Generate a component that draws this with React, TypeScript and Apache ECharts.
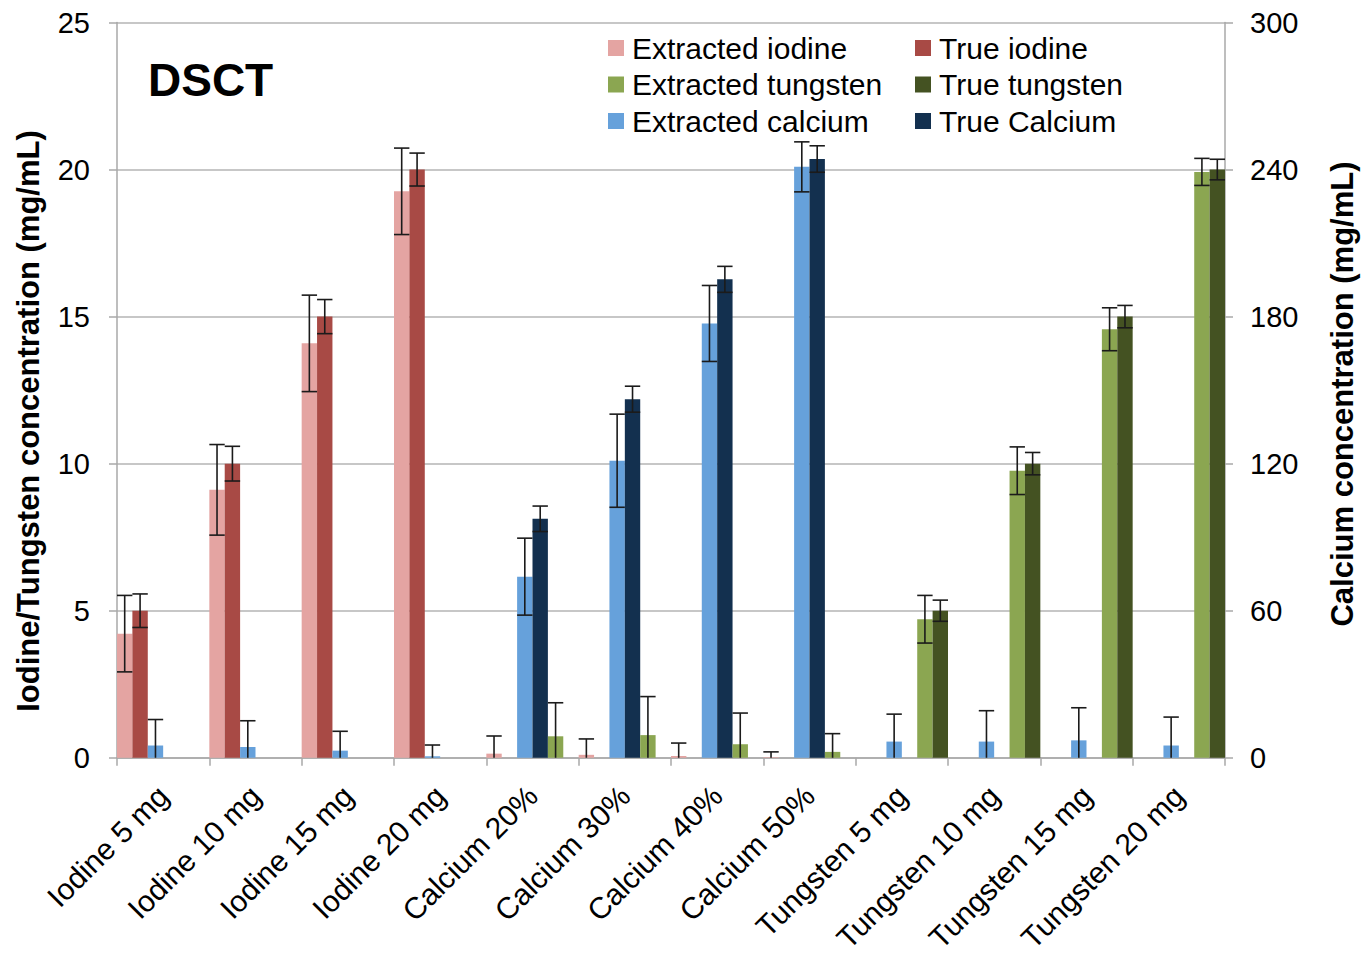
import React, { useEffect, useRef } from 'react';
import * as echarts from 'echarts';

// Phantom inserts measured with dual-source CT
const categories = [
  'Iodine 5 mg', 'Iodine 10 mg', 'Iodine 15 mg', 'Iodine 20 mg',
  'Calcium 20%', 'Calcium 30%', 'Calcium 40%', 'Calcium 50%',
  'Tungsten 5 mg', 'Tungsten 10 mg', 'Tungsten 15 mg', 'Tungsten 20 mg',
];

// Iodine / tungsten in mg/mL (left axis), calcium in mg/mL (right axis)
const extractedIodine = [4.22, 9.11, 14.09, 19.26, 0.14, 0.1, 0.06, 0.02, null, null, null, null];
const extractedIodineErr = [1.3, 1.54, 1.64, 1.47, 0.6, 0.54, 0.44, 0.18, 0, 0, 0, 0];
const trueIodine = [5, 10, 15, 20, null, null, null, null, null, null, null, null];
const trueIodineErr = [0.57, 0.59, 0.58, 0.56, 0, 0, 0, 0, 0, 0, 0, 0];
const extractedCalcium = [5.0, 4.4, 2.9, 0.6, 73.9, 121.2, 177.2, 241.1, 6.6, 6.6, 7.1, 5.0];
const extractedCalciumErr = [10.6, 10.7, 7.9, 4.6, 15.7, 19.0, 15.5, 10.2, 11.2, 12.6, 13.3, 11.6];
const trueCalcium = [null, null, null, null, 97.5, 146.3, 195.2, 244.3, null, null, null, null];
const trueCalciumErr = [0, 0, 0, 0, 5.2, 5.3, 5.3, 5.4, 0, 0, 0, 0];
const extractedTungsten = [null, null, null, null, 0.73, 0.77, 0.46, 0.2, 4.71, 9.76, 14.57, 19.92];
const extractedTungstenErr = [0, 0, 0, 0, 1.14, 1.31, 1.06, 0.62, 0.81, 0.81, 0.73, 0.46];
const trueTungsten = [null, null, null, null, null, null, null, null, 5, 10, 15, 20];
const trueTungstenErr = [0, 0, 0, 0, 0, 0, 0, 0, 0.36, 0.38, 0.38, 0.35];

const leftTicks = { min: 0, max: 25, interval: 5 };
const rightTicks = { min: 0, max: 300, interval: 60 };

const FONT = "'Liberation Sans', Arial, Helvetica, sans-serif";

type BarDef = {
  name: string;
  data: (number | null)[];
  err: number[];
  color: string;
  yAxisIndex: number;
};

// Bars in drawing order inside each category slot
const bars: BarDef[] = [
  { name: 'Extracted iodine', data: extractedIodine, err: extractedIodineErr, color: '#E4A4A2', yAxisIndex: 0 },
  { name: 'True iodine', data: trueIodine, err: trueIodineErr, color: '#A84A45', yAxisIndex: 0 },
  { name: 'Extracted calcium', data: extractedCalcium, err: extractedCalciumErr, color: '#66A1DB', yAxisIndex: 1 },
  { name: 'True Calcium', data: trueCalcium, err: trueCalciumErr, color: '#13304F', yAxisIndex: 1 },
  { name: 'Extracted tungsten', data: extractedTungsten, err: extractedTungstenErr, color: '#8BA651', yAxisIndex: 0 },
  { name: 'True tungsten', data: trueTungsten, err: trueTungstenErr, color: '#445222', yAxisIndex: 0 },
];

const SLOTS = bars.length;

function errorBarSeries(def: BarDef, slot: number) {
  const items: number[][] = [];
  def.data.forEach((v, i) => {
    if (v !== null && def.err[i] > 0) items.push([i, v, def.err[i]]);
  });
  return {
    type: 'custom',
    name: def.name + ' error',
    yAxisIndex: def.yAxisIndex,
    z: 5,
    silent: true,
    encode: { x: 0, y: 1 },
    data: items,
    renderItem: (_params: any, api: any) => {
      const idx = api.value(0);
      const v = api.value(1);
      const e = api.value(2);
      const band = api.size([1, 0])[0];
      const barW = band / SLOTS;
      const cx = api.coord([idx, 0])[0] + (slot - (SLOTS - 1) / 2) * barW;
      const low = v - e;
      const yTop = api.coord([idx, v + e])[1];
      const yBot = api.coord([idx, Math.max(0, low)])[1];
      const half = barW * 0.5;
      const style = { stroke: '#1b1b1b', lineWidth: 1.6 };
      const children: any[] = [
        { type: 'line', shape: { x1: cx, y1: yTop, x2: cx, y2: yBot }, style },
        { type: 'line', shape: { x1: cx - half, y1: yTop, x2: cx + half, y2: yTop }, style },
      ];
      if (low > 0) {
        children.push({ type: 'line', shape: { x1: cx - half, y1: yBot, x2: cx + half, y2: yBot }, style });
      }
      return { type: 'group', children };
    },
  };
}

export default function App() {
  const ref = useRef<HTMLDivElement>(null);

  useEffect(() => {
    if (!ref.current) return;
    const chart = echarts.init(ref.current, null, { renderer: 'svg' });

    const legendText = {
      fontSize: 30,
      fontFamily: FONT,
      color: '#000',
      lineHeight: 30,
      padding: [0, 0, 0, 3],
    };

    const option: any = {
      animation: false,
      backgroundColor: '#ffffff',
      grid: { left: 117, right: 146, top: 22.5, bottom: 196.5, containLabel: false },
      legend: [
        {
          data: ['Extracted iodine', 'Extracted tungsten', 'Extracted calcium'],
          orient: 'vertical',
          left: 608,
          top: 33,
          padding: 0,
          itemWidth: 16,
          itemHeight: 16,
          itemGap: 6.5,
          icon: 'rect',
          selectedMode: false,
          textStyle: legendText,
        },
        {
          data: ['True iodine', 'True tungsten', 'True Calcium'],
          orient: 'vertical',
          left: 915,
          top: 33,
          padding: 0,
          itemWidth: 16,
          itemHeight: 16,
          itemGap: 6.5,
          icon: 'rect',
          selectedMode: false,
          textStyle: legendText,
        },
      ],
      xAxis: {
        type: 'category',
        data: categories,
        axisLine: { lineStyle: { color: '#A8A8A8', width: 1.5 } },
        axisTick: { show: true, length: 8, lineStyle: { color: '#A8A8A8', width: 1.5 } },
        axisLabel: {
          interval: 0,
          rotate: 45,
          margin: 33,
          fontSize: 30,
          fontFamily: FONT,
          color: '#000',
        },
      },
      yAxis: [
        {
          type: 'value',
          position: 'left',
          ...leftTicks,
          axisLine: { show: true, lineStyle: { color: '#A8A8A8', width: 1.5 } },
          axisTick: { show: true, length: 8, lineStyle: { color: '#A8A8A8', width: 1.5 } },
          splitLine: { show: true, lineStyle: { color: '#B4B4B4', width: 1.5 } },
          axisLabel: { margin: 27, fontSize: 29, fontFamily: FONT, color: '#000' },
        },
        {
          type: 'value',
          position: 'right',
          ...rightTicks,
          axisLine: { show: true, lineStyle: { color: '#A8A8A8', width: 1.5 } },
          axisTick: { show: true, length: 8, lineStyle: { color: '#A8A8A8', width: 1.5 } },
          splitLine: { show: false },
          axisLabel: { margin: 25, fontSize: 29, fontFamily: FONT, color: '#000' },
        },
      ],
      series: [
        ...bars.map((b) => ({
          type: 'bar',
          name: b.name,
          yAxisIndex: b.yAxisIndex,
          data: b.data.map((v) => (v === null ? '-' : v)),
          barGap: '0%',
          barCategoryGap: '0%',
          itemStyle: { color: b.color },
          emphasis: { disabled: true },
        })),
        ...bars.map((b, slot) => errorBarSeries(b, slot)),
      ],
      graphic: [
        {
          type: 'text',
          x: 148,
          y: 80,
          style: {
            text: 'DSCT',
            font: `bold 46px ${FONT}`,
            fill: '#000',
            align: 'left',
            verticalAlign: 'middle',
          },
        },
        {
          type: 'text',
          x: 28,
          y: 421,
          rotation: Math.PI / 2,
          style: {
            text: 'Iodine/Tungsten concentration (mg/mL)',
            font: `bold 31px ${FONT}`,
            fill: '#000',
            align: 'center',
            verticalAlign: 'middle',
          },
        },
        {
          type: 'text',
          x: 1342,
          y: 394,
          rotation: Math.PI / 2,
          style: {
            text: 'Calcium concentration (mg/mL)',
            font: `bold 31px ${FONT}`,
            fill: '#000',
            align: 'center',
            verticalAlign: 'middle',
          },
        },
      ],
    };

    chart.setOption(option);
    return () => chart.dispose();
  }, []);

  return (
    <div
      ref={ref}
      style={{ position: 'fixed', left: 0, top: 0, width: 1371, height: 956, background: '#fff' }}
    />
  );
}
